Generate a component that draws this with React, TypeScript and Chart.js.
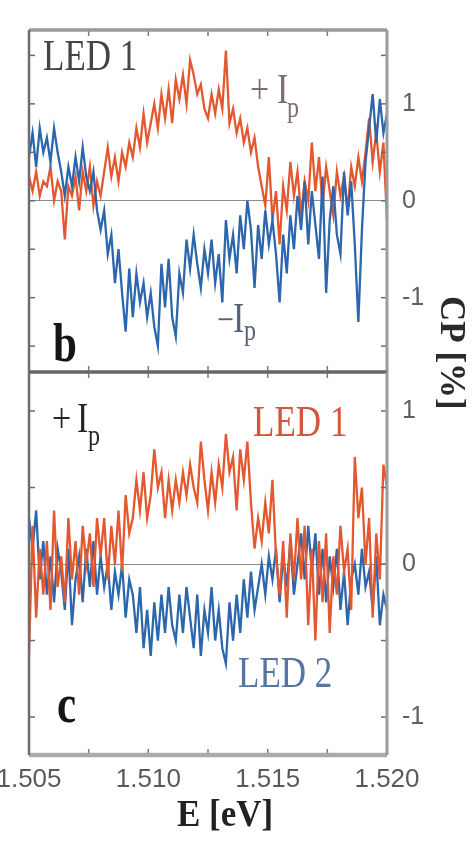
import React, { useEffect, useRef } from "react";
import { Chart, registerables } from "chart.js";

Chart.register(...registerables);

// ---------------- data ----------------
const ENERGY = [
  1.505, 1.50515, 1.5053, 1.50545, 1.5056, 1.50575, 1.5059, 1.50605, 1.5062, 1.50635,
  1.5065, 1.50665, 1.5068, 1.50695, 1.5071, 1.50725, 1.5074, 1.50755, 1.5077, 1.50785,
  1.508, 1.50815, 1.5083, 1.50845, 1.5086, 1.50875, 1.5089, 1.50905, 1.5092, 1.50935,
  1.5095, 1.50965, 1.5098, 1.50995, 1.5101, 1.51025, 1.5104, 1.51055, 1.5107, 1.51085,
  1.511, 1.51115, 1.5113, 1.51145, 1.5116, 1.51175, 1.5119, 1.51205, 1.5122, 1.51235,
  1.5125, 1.51265, 1.5128, 1.51295, 1.5131, 1.51325, 1.5134, 1.51355, 1.5137, 1.51385,
  1.514, 1.51415, 1.5143, 1.51445, 1.5146, 1.51475, 1.5149, 1.51505, 1.5152, 1.51535,
  1.5155, 1.51565, 1.5158, 1.51595, 1.5161, 1.51625, 1.5164, 1.51655, 1.5167, 1.51685,
  1.517, 1.51715, 1.5173, 1.51745, 1.5176, 1.51775, 1.5179, 1.51805, 1.5182, 1.51835,
  1.5185, 1.51865, 1.5188, 1.51895, 1.5191, 1.51925, 1.5194, 1.51955, 1.5197, 1.51985,
  1.52,
];

// panel b: LED 1, +Ip (red) and -Ip (blue), CP in %
const B_LED1_PLUS = [
  0.25, 0.1, 0.3, 0.05, 0.2, 0.15, 0.35, 0.0, 0.2,
  0.1, -0.4, 0.15, 0.05, 0.25, -0.1, 0.3, 0.1, 0.35, -0.05, 0.2,
  0.05, 0.3, 0.55, 0.25, 0.45, 0.2, 0.5, 0.35, 0.6,
  0.45, 0.75, 0.55, 0.9, 0.6, 0.8, 1.0, 0.75,
  1.1, 0.85, 1.15, 0.8, 1.25, 1.05, 1.3, 1.0, 1.45,
  1.3, 1.1, 1.2, 0.95, 0.85, 1.1, 0.9, 1.15, 0.95, 1.55,
  0.8, 0.95, 0.7, 0.85, 0.6, 0.75, 0.5, 0.65, 0.35, 0.15,
  -0.05, 0.45, -0.2, 0.1, -0.45, 0.15, -0.1, 0.4, 0.05, 0.3, -0.15, 0.2, 0.0, 0.6, 0.1,
  0.45, -0.05, 0.35, 0.1, -0.15, 0.3, 0.05, 0.25, -0.1, 0.35, 0.15, 0.45, 0.2,
  0.5, 0.85, 0.4, 0.7, 0.3, 0.6, -0.2,
];
const B_LED1_MINUS = [
  0.45, 0.7, 0.35, 0.75, 0.5, 0.65, 0.4, 0.75, 0.5,
  0.3, 0.05, 0.35, 0.15, 0.45, 0.2, 0.55, 0.25, 0.1, 0.3, -0.1,
  -0.3, -0.1, -0.55, -0.35, -0.85, -0.5, -0.95, -1.35, -0.7,
  -1.2, -0.75, -1.05, -0.85, -1.2, -0.95, -1.3, -1.5, -0.65, -1.1, -0.6, -1.2,
  -1.4, -0.75, -0.95, -0.4, -0.7, -0.35, -0.65, -0.9, -0.5, -0.75, -0.4, -0.85,
  -0.55, -1.05, -0.2, -0.6, -0.35, -0.75, -0.15, -0.5, 0.0, -0.3,
  -0.9, -0.25, -0.6, -0.1, -0.45, -0.2, -0.55, -1.05, -0.35, -0.75, -0.15, -0.5, 0.05,
  -0.3, 0.2, -0.45, 0.1, -0.25, -0.6, 0.25, -0.95, -0.2, 0.15, -0.35, -0.55, 0.3,
  -0.15, 0.2, -0.45, -1.25, -0.3, 0.4, 0.75, 1.1, 0.6, 1.05, 0.7, 0.9,
];

// panel c: +Ip, LED 1 (red) and LED 2 (blue), CP in %
const C_LED1 = [
  -0.6, 0.25, -0.35, 0.1, -0.2, 0.15, -0.3, 0.35, -0.15,
  0.05, -0.25, 0.3, -0.1, 0.15, -0.2, 0.25, 0.0, 0.2, -0.15, 0.3,
  0.05, 0.3, -0.1, 0.25, 0.0, 0.35, -0.05, 0.45, 0.2,
  0.3, 0.55, 0.35, 0.6, 0.3, 0.45, 0.75, 0.5, 0.6, 0.3, 0.55, 0.35,
  0.55, 0.4, 0.6, 0.45, 0.65, 0.5, 0.4, 0.8, 0.55, 0.35, 0.6, 0.4,
  0.65, 0.5, 0.85, 0.6, 0.7, 0.35, 0.75, 0.55, 0.8, 0.4, 0.1,
  0.3, 0.15, 0.4, 0.2, 0.55, 0.05, -0.2, 0.15, -0.35, 0.2, -0.1, 0.3,
  -0.1, 0.25, -0.4, 0.1, -0.5, 0.15, -0.25, 0.2, -0.45, 0.05, -0.2, 0.25, -0.05, 0.1, -0.3,
  0.7, 0.3, 0.5, 0.0, 0.3, -0.35, 0.2, -0.1, 0.65, 0.5,
];
const C_LED2 = [
  0.3, 0.1, 0.35, -0.1, 0.15, -0.2, 0.05, -0.25, 0.1,
  -0.05, -0.3, 0.1, -0.4, -0.1, 0.05, -0.25, 0.1, -0.15, 0.15, -0.2,
  0.05, -0.15, 0.0, -0.3, -0.05, -0.2, 0.0, -0.35, -0.1,
  -0.2, -0.45, -0.15, -0.55, -0.3, -0.6, -0.25, -0.5, -0.2, -0.45, -0.15, -0.4,
  -0.5, -0.2, -0.45, -0.15, -0.35, -0.55, -0.2, -0.6, -0.3, -0.45, -0.15, -0.5,
  -0.3, -0.55, -0.65, -0.25, -0.5, -0.2, -0.45, -0.1, -0.35, -0.05, -0.3,
  -0.15, 0.0, -0.2, 0.05, -0.1, 0.1, -0.25, 0.05, -0.15, 0.15, -0.2, 0.0,
  0.2, -0.1, 0.25, -0.05, 0.2, -0.2, 0.1, -0.25, 0.05, -0.15, 0.1, -0.3, -0.05, -0.4, -0.1,
  0.0, -0.2, 0.1, -0.15, -0.05, -0.3, 0.05, -0.4, -0.2, -0.3,
];

// axes
const X_MIN = 1.505;
const X_MAX = 1.52;
const X_LABEL_TICKS = [1.505, 1.51, 1.515, 1.52];
const X_MARK_TICKS = [1.5075, 1.51, 1.5125, 1.515, 1.5175];
const Y_LABEL_TICKS = [-1, 0, 1];
const B_Y_MIN = -1.767;
const B_Y_MAX = 1.762;
const C_Y_MIN = -1.248;
const C_Y_MAX = 1.255;
const B_Y_MARKS = [-1.5, -1, -0.5, 0, 0.5, 1, 1.5];
const C_Y_MARKS = [-1, -0.5, 0, 0.5, 1];

// ---------------- styling ----------------
const SERIF = '"Liberation Serif", "Times New Roman", serif';
const SANS = '"Liberation Sans", Arial, sans-serif';
const RED = "#e4582f";
const BLUE = "#2c66ac";
const W = 492;
const H = 841;
const SHIFT = 20; // canvas starts 20px left of the page

type Seg = { text: string; dx: number; dy: number; size: number; bold?: boolean };
type Note = { e: number; v: number; color: string; stretch: number; segs: Seg[] };

const B_NOTES: Note[] = [
  { e: 1.50559, v: 1.351, color: "#454545", stretch: 1.26, segs: [{ text: "LED 1", dx: 0, dy: 0, size: 35 }] },
  {
    e: 1.51426, v: 1.005, color: "#7c6d69", stretch: 1.26,
    segs: [
      { text: "+", dx: 0, dy: 0, size: 34 },
      { text: "I", dx: 27, dy: 0, size: 34 },
      { text: "p", dx: 37, dy: 14, size: 24 },
    ],
  },
  {
    e: 1.51288, v: -1.3515, color: "#56627a", stretch: 1.26,
    segs: [
      { text: "\u2212", dx: 0, dy: 0, size: 30 },
      { text: "I", dx: 16, dy: 0, size: 34 },
      { text: "p", dx: 27, dy: 8, size: 24 },
    ],
  },
  { e: 1.50601, v: -1.6485, color: "#151515", stretch: 1.26, segs: [{ text: "b", dx: 0, dy: 0, size: 43, bold: true }] },
];

const C_NOTES: Note[] = [
  {
    e: 1.50596, v: 0.8627, color: "#252525", stretch: 1.26,
    segs: [
      { text: "+", dx: 0, dy: 0, size: 34 },
      { text: "I", dx: 25, dy: 0, size: 34 },
      { text: "p", dx: 36, dy: 13, size: 24 },
    ],
  },
  { e: 1.51439, v: 0.8366, color: "#d4553d", stretch: 1.26, segs: [{ text: "LED 1", dx: 0, dy: 0, size: 35 }] },
  { e: 1.51376, v: -0.804, color: "#5576a0", stretch: 1.26, segs: [{ text: "LED 2", dx: 0, dy: 0, size: 35 }] },
  { e: 1.50617, v: -1.0327, color: "#151515", stretch: 1.26, segs: [{ text: "c", dx: 0, dy: 0, size: 43, bold: true }] },
];

function drawNotes(chart: any, notes: Note[]) {
  const ctx = chart.ctx as CanvasRenderingContext2D;
  const xs = chart.scales.x;
  const ys = chart.scales.y;
  for (const n of notes) {
    const px = xs.getPixelForValue(n.e);
    const py = ys.getPixelForValue(n.v);
    for (const s of n.segs) {
      ctx.save();
      ctx.translate(px + s.dx, py + s.dy);
      ctx.scale(1, n.stretch);
      ctx.font = `${s.bold ? "bold " : ""}${s.size}px ${SERIF}`;
      ctx.fillStyle = n.color;
      ctx.textAlign = "left";
      ctx.textBaseline = "alphabetic";
      ctx.fillText(s.text, 0, 0);
      ctx.restore();
    }
  }
}

type Edge = { color: string; width: number };
type Frame = { top: Edge; bottom: Edge; left: Edge; right: Edge; yMarks: number[] };

function drawFrame(chart: any, f: Frame) {
  const ctx = chart.ctx as CanvasRenderingContext2D;
  const a = chart.chartArea;
  const xs = chart.scales.x;
  const ys = chart.scales.y;
  const line = (x1: number, y1: number, x2: number, y2: number, c: string, w: number) => {
    ctx.beginPath();
    ctx.strokeStyle = c;
    ctx.lineWidth = w;
    ctx.moveTo(x1, y1);
    ctx.lineTo(x2, y2);
    ctx.stroke();
  };
  ctx.save();
  const L = 6;
  for (const v of X_MARK_TICKS) {
    const x = xs.getPixelForValue(v);
    line(x, a.top, x, a.top + L, "#7a7a7a", 1.5);
    line(x, a.bottom, x, a.bottom - L, "#7a7a7a", 1.5);
  }
  for (const v of f.yMarks) {
    const y = ys.getPixelForValue(v);
    line(a.left, y, a.left + L, y, "#6a6a6a", 1.5);
    line(a.right, y, a.right - L, y, "#6a6a6a", 1.5);
  }
  line(a.left, a.top, a.right, a.top, f.top.color, f.top.width);
  line(a.left, a.bottom, a.right, a.bottom, f.bottom.color, f.bottom.width);
  line(a.left, a.top, a.left, a.bottom, f.left.color, f.left.width);
  line(a.right, a.top, a.right, a.bottom, f.right.color, f.right.width);
  ctx.restore();
}

function pageTitles(chart: any) {
  const ctx = chart.ctx as CanvasRenderingContext2D;
  ctx.save();
  ctx.fillStyle = "#222";
  ctx.textBaseline = "alphabetic";
  ctx.textAlign = "left";
  // x-axis title
  ctx.save();
  ctx.translate(177 + SHIFT, 826);
  ctx.scale(1, 1.08);
  ctx.font = `bold 35px ${SERIF}`;
  ctx.fillText("E [eV]", 0, 0);
  ctx.restore();
  // shared y-axis title, rotated
  ctx.save();
  ctx.translate(441 + SHIFT, 296);
  ctx.rotate(Math.PI / 2);
  ctx.font = `bold 35px ${SERIF}`;
  ctx.fillStyle = "#2a2a2a";
  ctx.fillText("CP [%]", 0, 0);
  ctx.restore();
  ctx.restore();
}

const series = (ys: number[]) => ENERGY.map((e, i) => ({ x: e, y: ys[i] }));

const yAxis = (min: number, max: number) => ({
  type: "linear" as const,
  position: "right" as const,
  min,
  max,
  afterBuildTicks: (s: any) => {
    s.ticks = Y_LABEL_TICKS.map((v) => ({ value: v }));
  },
  afterFit: (s: any) => {
    s.width = 85;
  },
  grid: {
    drawTicks: false,
    lineWidth: 1,
    color: (c: any) => (c.tick && c.tick.value === 0 ? "#8c8c8c" : "rgba(0,0,0,0)"),
  },
  border: { display: false },
  ticks: {
    padding: 15,
    color: "#606060",
    font: { family: SANS, size: 25 },
    callback: (v: any) => String(v),
  },
});

export default function App() {
  const topRef = useRef<HTMLCanvasElement>(null);
  const botRef = useRef<HTMLCanvasElement>(null);

  useEffect(() => {
    const topPlugin = {
      id: "panelB",
      afterDatasetsDraw(chart: any) {
        drawFrame(chart, {
          top: { color: "#9a9a9a", width: 3.5 },
          bottom: { color: "#666", width: 3 },
          left: { color: "#6e6e6e", width: 2.5 },
          right: { color: "#9c9c9c", width: 3 },
          yMarks: B_Y_MARKS,
        });
        drawNotes(chart, B_NOTES);
      },
    };
    const botPlugin = {
      id: "panelC",
      afterDatasetsDraw(chart: any) {
        drawFrame(chart, {
          top: { color: "#666", width: 3 },
          bottom: { color: "#ababab", width: 4.5 },
          left: { color: "#6e6e6e", width: 2.5 },
          right: { color: "#9c9c9c", width: 3 },
          yMarks: C_Y_MARKS,
        });
        drawNotes(chart, C_NOTES);
      },
      afterDraw(chart: any) {
        pageTitles(chart);
      },
    };

    const common = {
      responsive: false,
      animation: false as const,
      devicePixelRatio: 1,
      events: [] as any[],
      elements: { point: { radius: 0 }, line: { tension: 0, borderWidth: 2.3 } },
    };

    const c1 = new Chart(topRef.current!, {
      type: "line",
      data: {
        datasets: [
          { label: "-Ip", data: series(B_LED1_MINUS), borderColor: BLUE, borderWidth: 2.3, pointRadius: 0 },
          { label: "+Ip", data: series(B_LED1_PLUS), borderColor: RED, borderWidth: 2.3, pointRadius: 0 },
        ],
      },
      options: {
        ...common,
        layout: { padding: { left: 29 + SHIFT, top: 15.5, right: 0, bottom: H - 372 } },
        plugins: { legend: { display: false }, tooltip: { enabled: false } },
        scales: {
          x: { type: "linear", display: false, min: X_MIN, max: X_MAX },
          y: yAxis(B_Y_MIN, B_Y_MAX),
        },
      } as any,
      plugins: [topPlugin],
    });

    const c2 = new Chart(botRef.current!, {
      type: "line",
      data: {
        datasets: [
          { label: "LED 1", data: series(C_LED1), borderColor: RED, borderWidth: 2.3, pointRadius: 0 },
          { label: "LED 2", data: series(C_LED2), borderColor: BLUE, borderWidth: 2.3, pointRadius: 0 },
        ],
      },
      options: {
        ...common,
        layout: { padding: { left: 29 + SHIFT, top: 372, right: 0, bottom: 0 } },
        plugins: { legend: { display: false }, tooltip: { enabled: false } },
        scales: {
          x: {
            type: "linear",
            position: "bottom",
            min: X_MIN,
            max: X_MAX,
            afterBuildTicks: (s: any) => {
              s.ticks = X_LABEL_TICKS.map((v) => ({ value: v }));
            },
            afterFit: (s: any) => {
              s.height = H - 755;
            },
            grid: { display: false, drawTicks: false },
            border: { display: false },
            ticks: {
              padding: 9,
              maxRotation: 0,
              color: "#5a5a5a",
              font: { family: SANS, size: 26 },
              callback: (v: any) => Number(v).toFixed(3),
            },
          },
          y: yAxis(C_Y_MIN, C_Y_MAX),
        },
      } as any,
      plugins: [botPlugin],
    });

    return () => {
      c1.destroy();
      c2.destroy();
    };
  }, []);

  const cs: React.CSSProperties = { position: "absolute", left: 0, top: 0, width: W, height: H };
  return (
    <div style={{ position: "absolute", left: -SHIFT, top: 0, width: W, height: H, background: "#fff", overflow: "hidden" }}>
      <canvas ref={topRef} width={W} height={H} style={cs} />
      <canvas ref={botRef} width={W} height={H} style={cs} />
    </div>
  );
}
